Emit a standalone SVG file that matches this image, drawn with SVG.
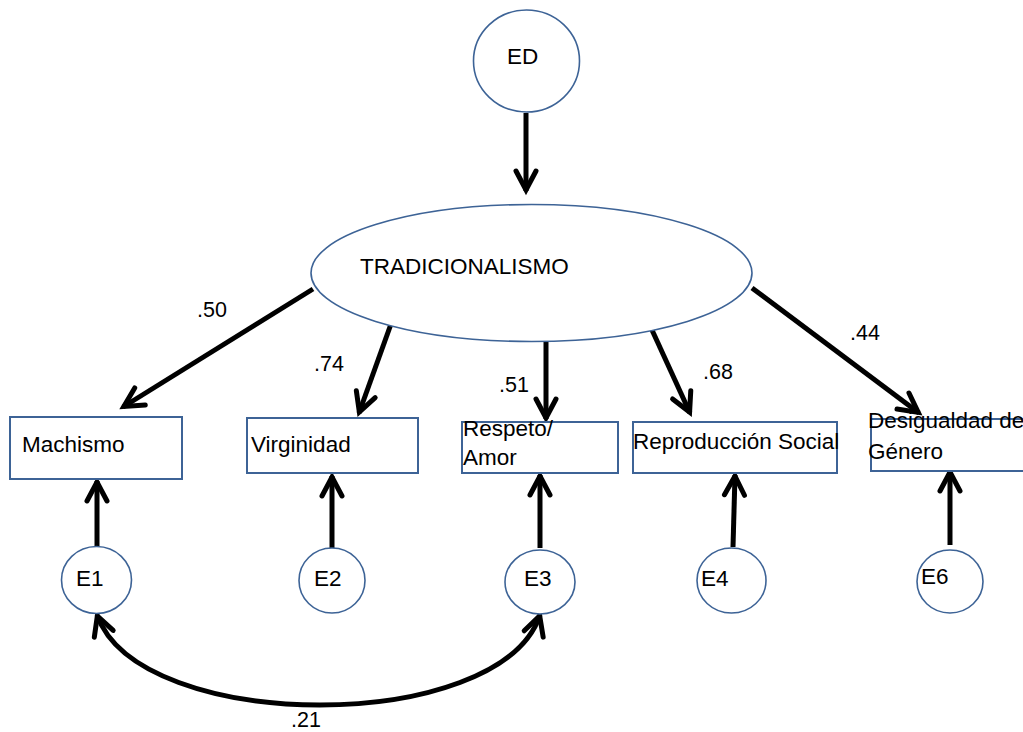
<svg xmlns="http://www.w3.org/2000/svg" width="1023" height="732" viewBox="0 0 1023 732">
<style>
.lat{fill:#fff;stroke:#3d6396;stroke-width:1.6}
.box{fill:#fff;stroke:#3d6396;stroke-width:2}
.t{font-family:"Liberation Sans",Arial,sans-serif;font-size:22.5px;fill:#000}
.c{font-family:"Liberation Sans",Arial,sans-serif;font-size:21.5px;fill:#000}
.ar{stroke:#000;stroke-width:5;fill:none;marker-end:url(#ah)}
</style>
<defs>
<marker id="ah" markerUnits="userSpaceOnUse" orient="auto" refX="0" refY="0" markerWidth="30" markerHeight="30" overflow="visible">
<path d="M-20,-10 L-1,0 L-20,10" fill="none" stroke="#000" stroke-width="5" stroke-linecap="round" stroke-linejoin="miter"/>
</marker>
<marker id="ahs" markerUnits="userSpaceOnUse" orient="auto-start-reverse" refX="0" refY="0" markerWidth="30" markerHeight="30" overflow="visible">
<path d="M-20,-10 L-1,0 L-20,10" fill="none" stroke="#000" stroke-width="5" stroke-linecap="round" stroke-linejoin="miter"/>
</marker>
</defs>
<g id="connectors">
<line class="ar" x1="526" y1="113" x2="526" y2="191"/>
<line class="ar" x1="313" y1="289" x2="123" y2="407"/>
<line class="ar" x1="391" y1="324" x2="359" y2="413"/>
<line class="ar" x1="546" y1="342" x2="546" y2="419"/>
<line class="ar" x1="652" y1="330" x2="690" y2="413"/>
<line class="ar" x1="752" y1="288" x2="919" y2="413"/>
<line class="ar" x1="97" y1="547" x2="97" y2="481"/>
<line class="ar" x1="332" y1="548" x2="332" y2="476"/>
<line class="ar" x1="540" y1="548" x2="540" y2="475"/>
<line class="ar" x1="733" y1="547" x2="735" y2="475"/>
<line class="ar" x1="950" y1="545" x2="950" y2="471"/>
<path d="M97,615 C140,735 500,735 540,615" stroke="#000" stroke-width="5" fill="none" marker-start="url(#ahs)" marker-end="url(#ahs)"/>
<text class="c" x="197" y="317">.50</text>
<text class="c" x="314" y="371">.74</text>
<text class="c" x="499" y="392">.51</text>
<text class="c" x="703" y="379">.68</text>
<text class="c" x="850" y="340">.44</text>
<text class="c" x="291" y="727">.21</text>
</g>
<g id="ED">
<ellipse class="lat" cx="526.5" cy="61" rx="53" ry="51"/>
<text class="t" x="507" y="64">ED</text>
</g>
<g id="TRADICIONALISMO">
<ellipse class="lat" cx="531.5" cy="273" rx="220.5" ry="68.5"/>
<text class="t" x="360" y="274">TRADICIONALISMO</text>
</g>
<g id="Machismo">
<rect class="box" x="10" y="417" width="172" height="62"/>
<text class="t" x="22" y="452">Machismo</text>
</g>
<g id="Virginidad">
<rect class="box" x="247" y="418" width="171" height="55"/>
<text class="t" x="251" y="452">Virginidad</text>
</g>
<g id="Respeto">
<rect class="box" x="462" y="422" width="156" height="51"/>
<text class="t" x="463" y="436">Respeto/</text>
<text class="t" x="463" y="465">Amor</text>
</g>
<g id="Reproduccion">
<rect class="box" x="633" y="422" width="204" height="51"/>
<text class="t" x="633" y="449">Reproducción Social</text>
</g>
<g id="Desigualdad">
<rect class="box" x="871" y="419" width="160" height="52"/>
<text class="t" x="868" y="428">Desigualdad de</text>
<text class="t" x="868" y="459">Género</text>
</g>
<g id="E1">
<ellipse class="lat" cx="96.5" cy="580" rx="35" ry="33.5"/>
<text class="t" x="76" y="586">E1</text>
</g>
<g id="E2">
<ellipse class="lat" cx="332" cy="580.5" rx="33" ry="32.5"/>
<text class="t" x="314" y="586">E2</text>
</g>
<g id="E3">
<ellipse class="lat" cx="540" cy="582" rx="35" ry="32"/>
<text class="t" x="524" y="586">E3</text>
</g>
<g id="E4">
<ellipse class="lat" cx="731.5" cy="580.5" rx="34.5" ry="32.5"/>
<text class="t" x="701" y="586">E4</text>
</g>
<g id="E6">
<ellipse class="lat" cx="950" cy="581.5" rx="33" ry="31.5"/>
<text class="t" x="921" y="584">E6</text>
</g>
</svg>
